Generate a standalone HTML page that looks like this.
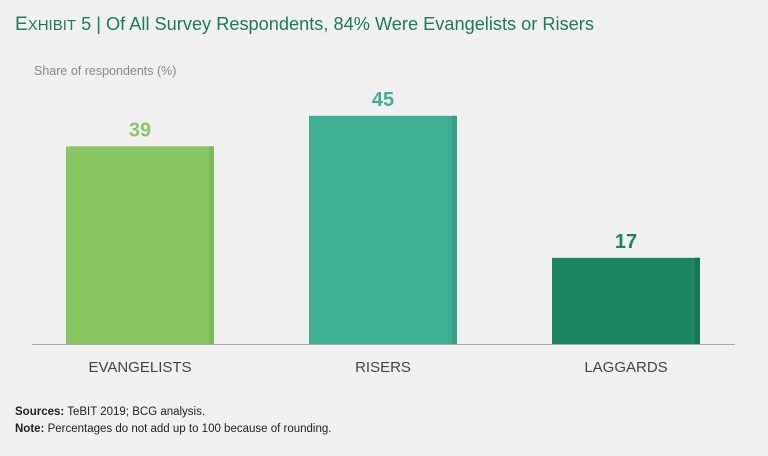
<!DOCTYPE html>
<html><head><meta charset="utf-8"><style>
body{margin:0;background:#f0f0f0;width:768px;height:451px;overflow:hidden;font-family:"Liberation Sans",sans-serif}
</style></head><body>
<svg width="768" height="451">
<rect width="768" height="451" fill="#f0f0f0"/>
<text x="15" y="30" fill="#1e7a5a" font-size="18.2"><tspan font-size="19">E</tspan><tspan font-size="15">XHIBIT</tspan> 5 | Of All Survey Respondents, 84% Were Evangelists or Risers</text>
<text x="34" y="75" fill="#888" font-size="12.5">Share of respondents (%)</text>
<g id="bars"></g>
<line x1="32" y1="344.5" x2="735" y2="344.5" stroke="#aaa" stroke-width="1"/>
<text x="15" y="415" fill="#222" font-size="11.5"><tspan font-weight="bold">Sources:</tspan> TeBIT 2019; BCG analysis.</text>
<text x="15" y="432" fill="#222" font-size="11.5"><tspan font-weight="bold">Note:</tspan> Percentages do not add up to 100 because of rounding.</text>
</svg>
<script>
const categories=["EVANGELISTS","RISERS","LAGGARDS"];
const values=[39,45,17];
const colors=["#8bc665","#3eaf92","#1b8661"];
const edge=["#7db85a","#36a086","#177553"];
const base=344,scale=5.07,x0=66,step=243,bw=148;
const ns="http://www.w3.org/2000/svg",g=document.getElementById('bars');
function y(v){return base-v*scale;}
categories.forEach((c,i)=>{
 const x=x0+i*step;
 const r=document.createElementNS(ns,'rect');
 r.setAttribute('x',x);r.setAttribute('y',y(values[i]));r.setAttribute('width',bw);r.setAttribute('height',base-y(values[i]));r.setAttribute('fill',colors[i]);
 
 
 g.appendChild(r);
 const e=document.createElementNS(ns,'rect');
 e.setAttribute('x',x+bw-5);e.setAttribute('y',y(values[i]));e.setAttribute('width',5);e.setAttribute('height',base-y(values[i]));e.setAttribute('fill',edge[i]);
 
 
 g.appendChild(e);
 const t=document.createElementNS(ns,'text');
 t.setAttribute('x',x+bw/2);t.setAttribute('y',y(values[i])-10);t.setAttribute('text-anchor','middle');t.setAttribute('font-size','20');t.setAttribute('font-weight','bold');t.setAttribute('fill',colors[i]);
 t.textContent=values[i];
 
 
 g.appendChild(t);
 const l=document.createElementNS(ns,'text');
 l.setAttribute('x',x+bw/2);l.setAttribute('y',372);l.setAttribute('text-anchor','middle');l.setAttribute('font-size','15');l.setAttribute('fill','#444');
 l.textContent=c;
 
 
 g.appendChild(l);
});
</script>
</body></html>
